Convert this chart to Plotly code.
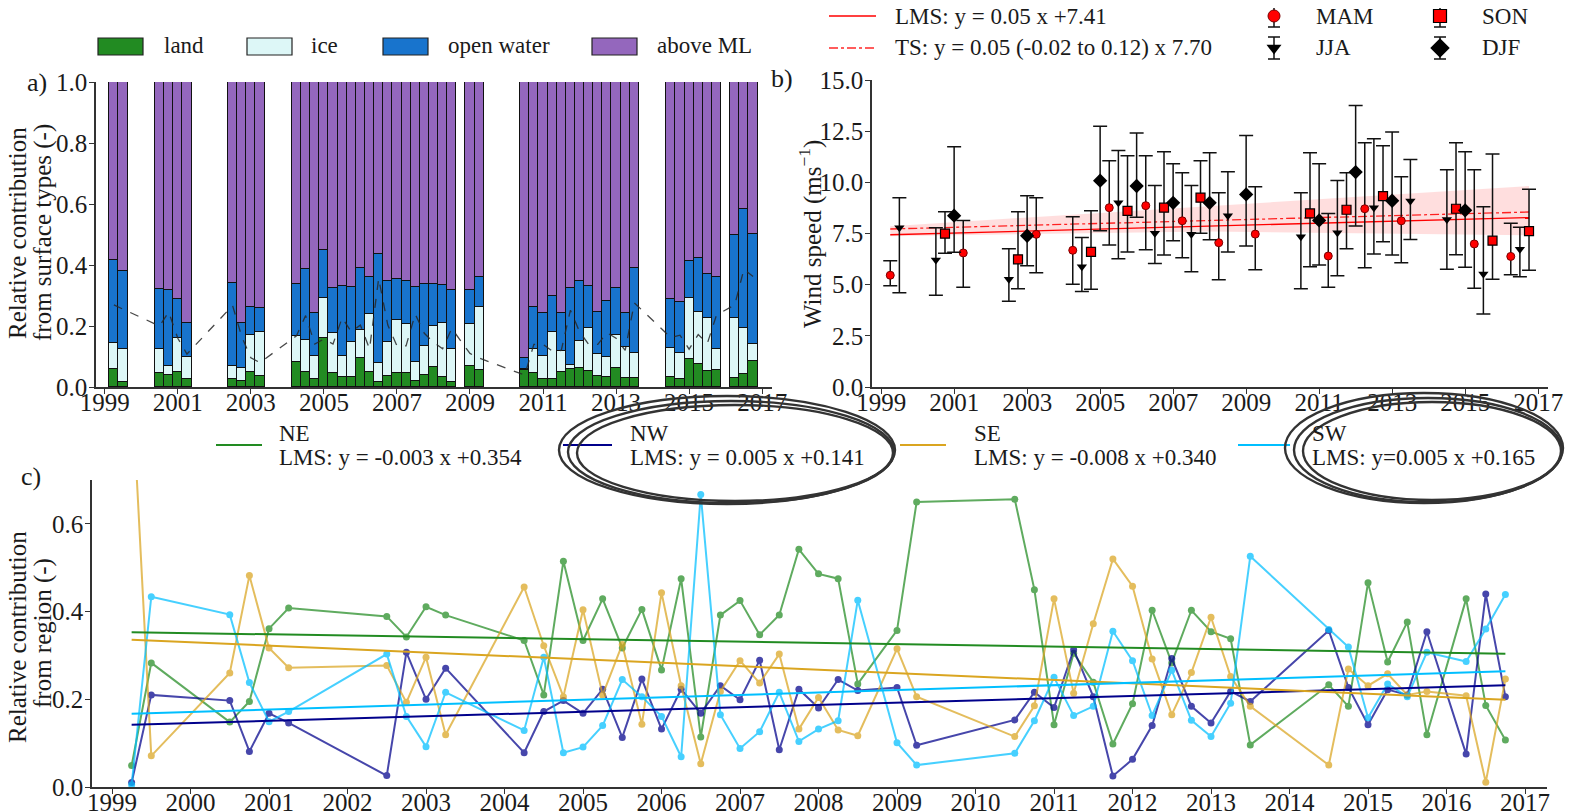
import plotly.graph_objects as go

W, H = 1575, 811
OFF = 8                      # page body margin of the browser
FW, FH = W - OFF, H - OFF    # figure size so the page fills the window exactly

# ---------------- data ----------------
quarters = [1999.25, 1999.5, 2000.5, 2000.75, 2001.0, 2001.25, 2002.5, 2002.75, 2003.0, 2003.25,
            2004.25, 2004.5, 2004.75, 2005.0, 2005.25, 2005.5, 2005.75, 2006.0, 2006.25, 2006.5,
            2006.75, 2007.0, 2007.25, 2007.5, 2007.75, 2008.0, 2008.25, 2008.5,
            2009.0, 2009.25,
            2010.5, 2010.75, 2011.0, 2011.25, 2011.5, 2011.75, 2012.0, 2012.25, 2012.5, 2012.75,
            2013.0, 2013.25, 2013.5,
            2014.5, 2014.75, 2015.0, 2015.25, 2015.5, 2015.75,
            2016.25, 2016.5, 2016.75]

# panel a: surface type fractions
land = [0.059, 0.015, 0.047, 0.039, 0.050, 0.025, 0.026, 0.021, 0.050, 0.037,
        0.082, 0.050, 0.025, 0.160, 0.045, 0.032, 0.034, 0.094, 0.050, 0.015,
        0.037, 0.047, 0.047, 0.021, 0.039, 0.066, 0.034, 0.015,
        0.069, 0.056,
        0.056, 0.047, 0.025, 0.025, 0.050, 0.059, 0.063, 0.054, 0.037, 0.033,
        0.063, 0.030, 0.030,
        0.034, 0.027, 0.093, 0.075, 0.054, 0.056,
        0.030, 0.043, 0.085]
ice = [0.084, 0.109, 0.077, 0.031, 0.110, 0.074, 0.043, 0.042, 0.120, 0.144,
       0.086, 0.104, 0.077, 0.131, 0.133, 0.070, 0.114, 0.093, 0.189, 0.063,
       0.111, 0.172, 0.158, 0.062, 0.097, 0.134, 0.175, 0.110,
       0.136, 0.205,
       0.002, 0.078, 0.077, 0.154, 0.068, 0.013, 0.088, 0.138, 0.071, 0.065,
       0.106, 0.102, 0.080,
       0.095, 0.083, 0.198, 0.172, 0.171, 0.069,
       0.197, 0.151, 0.055]
open_water = [0.273, 0.257, 0.198, 0.247, 0.127, 0.110, 0.271, 0.146, 0.093, 0.079,
              0.171, 0.234, 0.140, 0.158, 0.146, 0.230, 0.181, 0.203, 0.123, 0.358,
              0.198, 0.134, 0.141, 0.244, 0.203, 0.139, 0.127, 0.192,
              0.112, 0.099,
              0.036, 0.138, 0.142, 0.120, 0.126, 0.254, 0.198, 0.140, 0.139, 0.183,
              0.157, 0.112, 0.281,
              0.161, 0.170, 0.122, 0.176, 0.147, 0.235,
              0.270, 0.389, 0.361]
above_ml = [0.584, 0.619, 0.678, 0.683, 0.713, 0.791, 0.660, 0.791, 0.737, 0.740,
            0.661, 0.612, 0.758, 0.551, 0.676, 0.668, 0.671, 0.610, 0.638, 0.564,
            0.654, 0.647, 0.654, 0.673, 0.661, 0.661, 0.664, 0.683,
            0.683, 0.640,
            0.906, 0.737, 0.756, 0.701, 0.756, 0.674, 0.651, 0.668, 0.753, 0.719,
            0.674, 0.756, 0.609,
            0.710, 0.720, 0.587, 0.577, 0.628, 0.640,
            0.503, 0.417, 0.499]
dashed_line = [0.269, 0.255, 0.200, 0.246, 0.160, 0.108, 0.267, 0.165, 0.096, 0.080,
               0.168, 0.234, 0.141, 0.157, 0.141, 0.227, 0.181, 0.203, 0.125, 0.356,
               0.203, 0.135, 0.135, 0.239, 0.176, 0.147, 0.125, 0.192,
               0.110, 0.095,
               0.039, 0.140, 0.140, 0.118, 0.120, 0.252, 0.181, 0.140, 0.140, 0.178,
               0.160, 0.120, 0.276,
               0.162, 0.170, 0.124, 0.172, 0.143, 0.236,
               0.269, 0.386, 0.362]

# panel b: wind speed
wind_mean = [5.46, 7.78, 6.20, 7.49, 8.37, 6.55, 5.26, 6.24, 7.39, 7.46,
             6.68, 5.88, 6.60, 10.08, 8.76, 9.00, 8.61, 9.82, 8.86, 7.51,
             8.76, 9.00, 8.12, 7.46, 9.25, 9.00, 7.05, 8.37,
             9.41, 7.47,
             7.34, 8.48, 8.14, 6.40, 7.54, 8.66, 10.50, 8.71, 8.76, 9.33,
             9.10, 8.12, 9.09,
             8.19, 8.71, 8.63, 6.99, 5.52, 7.15,
             6.38, 6.73, 7.62]
wind_high = [6.17, 9.25, 7.78, 8.56, 11.74, 8.14, 6.76, 8.56, 9.35, 9.25,
             8.32, 7.31, 8.61, 12.74, 11.06, 11.56, 11.30, 12.41, 11.30, 9.85,
             11.50, 10.91, 10.47, 9.85, 11.06, 11.45, 9.49, 10.52,
             12.29, 9.79,
             9.49, 11.45, 10.91, 8.48, 10.09, 10.47, 13.76, 11.93, 12.13, 11.79,
             12.46, 10.27, 11.11,
             10.62, 11.93, 11.50, 10.62, 8.81, 11.38,
             8.00, 7.80, 9.66]
wind_low = [4.95, 4.61, 4.48, 6.53, 6.58, 4.87, 4.19, 4.80, 5.93, 5.58,
            5.02, 4.67, 4.77, 7.64, 6.94, 6.27, 6.60, 8.29, 6.71, 6.04,
            6.45, 7.15, 6.32, 5.63, 7.51, 7.20, 5.24, 6.60,
            6.89, 5.73,
            4.80, 5.88, 5.96, 4.87, 5.44, 6.76, 7.87, 5.83, 6.50, 7.10,
            6.45, 6.07, 7.21,
            5.75, 6.46, 5.85, 4.82, 3.57, 5.26,
            5.49, 5.39, 5.70]
trend_x = [1999.25, 2016.75]
lms_wind = [7.44, 8.28]
ts_wind = [7.72, 8.55]
band_x = [1999.25, 2008.0, 2016.75]
band_upper = [7.86, 8.84, 9.82]
band_lower = [7.37, 7.60, 7.41]

# panel c: regional contributions
region_ne = [0.049, 0.283, 0.148, 0.195, 0.361, 0.408, 0.389, 0.342, 0.411, 0.392,
             0.334, 0.210, 0.515, 0.334, 0.429, 0.317, 0.405, 0.267, 0.475, 0.114,
             0.392, 0.425, 0.347, 0.392, 0.542, 0.486, 0.475, 0.235,
             0.357, 0.650,
             0.656, 0.450, 0.142, 0.305, 0.239, 0.098, 0.190, 0.403, 0.283, 0.403,
             0.354, 0.338, 0.096,
             0.233, 0.184, 0.466, 0.285, 0.376, 0.119,
             0.429, 0.186, 0.107]
region_nw = [0.010, 0.210, 0.197, 0.081, 0.168, 0.146, 0.026, 0.307, 0.200, 0.271,
             0.078, 0.172, 0.197, 0.168, 0.223, 0.113, 0.246, 0.132, 0.223, 0.168,
             0.231, 0.199, 0.289, 0.085, 0.223, 0.180, 0.245, 0.220,
             0.227, 0.095,
             0.153, 0.216, 0.181, 0.313, 0.206, 0.025, 0.063, 0.140, 0.293, 0.184,
             0.146, 0.218, 0.195,
             0.357, 0.227, 0.142, 0.222, 0.210, 0.354,
             0.075, 0.440, 0.206]
region_se = [0.930, 0.071, 0.260, 0.482, 0.317, 0.272, 0.277, 0.193, 0.296, 0.119,
             0.456, 0.322, 0.206, 0.404, 0.210, 0.325, 0.143, 0.443, 0.231, 0.053,
             0.218, 0.288, 0.237, 0.303, 0.132, 0.204, 0.130, 0.117,
             0.315, 0.206,
             0.115, 0.185, 0.429, 0.214, 0.372, 0.520, 0.458, 0.292, 0.165, 0.261,
             0.387, 0.252, 0.184,
             0.050, 0.269, 0.231, 0.258, 0.210, 0.218,
             0.208, 0.011, 0.246]
region_sw = [0.005, 0.434, 0.393, 0.238, 0.149, 0.172, 0.303, 0.161, 0.092, 0.216,
             0.129, 0.296, 0.078, 0.091, 0.140, 0.245, 0.206, 0.161, 0.069, 0.667,
             0.165, 0.088, 0.126, 0.216, 0.104, 0.132, 0.151, 0.426,
             0.101, 0.050,
             0.077, 0.151, 0.250, 0.163, 0.184, 0.355, 0.288, 0.163, 0.266, 0.152,
             0.115, 0.191, 0.526,
             0.359, 0.319, 0.158, 0.235, 0.206, 0.307,
             0.286, 0.360, 0.439]
trend_ne = [0.353, 0.304]
trend_nw = [0.142, 0.232]
trend_se = [0.336, 0.199]
trend_sw = [0.167, 0.264]

surface_names = ["land", "ice", "open water", "above ML"]
region_names = ["NE", "NW", "SE", "SW"]
region_labels = ["LMS: y = -0.003 x +0.354", "LMS: y = 0.005 x +0.141",
                 "LMS: y = -0.008 x +0.340", "LMS: y=0.005 x +0.165"]
wind_labels = ["LMS: y = 0.05 x +7.41", "TS: y = 0.05 (-0.02 to 0.12) x 7.70"]
season_names = ["MAM", "JJA", "SON", "DJF"]

# ---------------- styling ----------------
FONT = "Liberation Serif"
TXT = "#1a1a1a"
AX = "#333333"
surface_colors = ["#228B22", "#DDF7F7", "#1874CD", "#9467BD"]
region_colors = ["#228B22", "#00008B", "#DAA520", "#00BFFF"]
LEG_SIZE = 23
TICK_SIZE = 25
TITLE_SIZE = 25


def px(x):
    """screen pixel x -> paper fraction"""
    return (x - OFF) / FW


def py(y):
    """screen pixel y (from top) -> paper fraction"""
    return 1 - (y - OFF) / FH


season_of = {0.25: "MAM", 0.5: "JJA", 0.75: "SON", 0.0: "DJF"}
seasons = [season_of[round(q - int(q), 2)] for q in quarters]

fig = go.Figure()

# ---- panel a ----
for vals, name, col in zip([land, ice, open_water, above_ml], surface_names, surface_colors):
    fig.add_trace(go.Bar(x=quarters, y=vals, width=0.25, name=name,
                         marker=dict(color=col, line=dict(color="#111111", width=1)),
                         xaxis="x", yaxis="y", showlegend=False))
fig.add_trace(go.Scatter(x=quarters, y=dashed_line, mode="lines",
                         line=dict(color="rgba(40,40,40,0.85)", width=1.3, dash="dash"),
                         xaxis="x", yaxis="y", showlegend=False))

# ---- panel b ----
fig.add_trace(go.Scatter(x=band_x + band_x[::-1], y=band_upper + band_lower[::-1],
                         fill="toself", fillcolor="rgba(255,0,0,0.13)", line=dict(width=0),
                         mode="lines", xaxis="x2", yaxis="y2", showlegend=False))
fig.add_trace(go.Scatter(x=trend_x, y=ts_wind, mode="lines",
                         line=dict(color="rgba(255,0,0,0.85)", width=1.3, dash="dashdot"),
                         xaxis="x2", yaxis="y2", showlegend=False))
fig.add_trace(go.Scatter(x=trend_x, y=lms_wind, mode="lines",
                         line=dict(color="#ff0000", width=1.3),
                         xaxis="x2", yaxis="y2", showlegend=False))

season_style = {
    "MAM": dict(symbol="circle", size=8, color="#ff0000", line=dict(color="#7a0000", width=1)),
    "JJA": dict(symbol="triangle-down", size=9, color="#000000", line=dict(color="#000000", width=0)),
    "SON": dict(symbol="square", size=9, color="#ff0000", line=dict(color="#000000", width=1.2)),
    "DJF": dict(symbol="diamond", size=11, color="#000000", line=dict(color="#000000", width=0)),
}
legend_size = {"MAM": 12, "JJA": 13, "SON": 13, "DJF": 15}
for s in season_names:
    idx = [i for i, v in enumerate(seasons) if v == s]
    xs = [quarters[i] for i in idx]
    ys = [wind_mean[i] for i in idx]
    up = [wind_high[i] - wind_mean[i] for i in idx]
    dn = [wind_mean[i] - wind_low[i] for i in idx]
    fig.add_trace(go.Scatter(x=xs, y=ys, mode="markers", marker=season_style[s],
                             error_y=dict(type="data", symmetric=False, array=up, arrayminus=dn,
                                          color="#111111", thickness=1.5, width=7),
                             xaxis="x2", yaxis="y2", showlegend=False))

# ---- panel c ----
for vals, col in zip([region_ne, region_nw, region_se, region_sw], region_colors):
    fig.add_trace(go.Scatter(x=quarters, y=vals, mode="lines+markers",
                             line=dict(color=col, width=2), marker=dict(color=col, size=7),
                             opacity=0.72, xaxis="x3", yaxis="y3", showlegend=False))
for vals, col in zip([trend_ne, trend_nw, trend_se, trend_sw], region_colors):
    fig.add_trace(go.Scatter(x=trend_x, y=vals, mode="lines", line=dict(color=col, width=2),
                             xaxis="x3", yaxis="y3", showlegend=False))

# ---------------- legends (overlay pixel axis) ----------------
shapes = []
annotations = []

# panel a legend
patch_x = [98, 247, 383, 592]
text_x = [162, 309, 446, 655]
for name, col, x0, tx in zip(surface_names, surface_colors, patch_x, text_x):
    shapes.append(dict(type="rect", xref="paper", yref="paper", x0=px(x0), x1=px(x0 + 45),
                       y0=py(55), y1=py(38), fillcolor=col, line=dict(color="#222", width=1.2)))
    annotations.append(dict(x=px(tx), y=py(46), xref="paper", yref="paper", text=name,
                            showarrow=False, xanchor="left", yanchor="middle",
                            font=dict(family=FONT, size=LEG_SIZE, color=TXT)))

# panel b legend
fig.add_trace(go.Scatter(x=[829, 876], y=[16, 16], mode="lines", line=dict(color="#ff0000", width=1.3),
                         xaxis="x4", yaxis="y4", showlegend=False, hoverinfo="skip"))
fig.add_trace(go.Scatter(x=[829, 876], y=[48, 48], mode="lines",
                         line=dict(color="rgba(255,0,0,0.85)", width=1.3, dash="dashdot"),
                         xaxis="x4", yaxis="y4", showlegend=False, hoverinfo="skip"))
for lab, yy in zip(wind_labels, [16, 48]):
    annotations.append(dict(x=px(893), y=py(yy), xref="paper", yref="paper", text=lab,
                            showarrow=False, xanchor="left", yanchor="middle",
                            font=dict(family=FONT, size=LEG_SIZE, color=TXT)))
leg_pos = {"MAM": (1274, 16), "SON": (1440, 16), "JJA": (1274, 48), "DJF": (1440, 48)}
for s in season_names:
    mx, my = leg_pos[s]
    mstyle = dict(season_style[s], size=legend_size[s])
    fig.add_trace(go.Scatter(x=[mx], y=[my], mode="markers", marker=mstyle,
                             error_y=dict(type="data", array=[11], color="#111111", thickness=1.5, width=6),
                             xaxis="x4", yaxis="y4", showlegend=False, hoverinfo="skip"))
    annotations.append(dict(x=px(mx + 40), y=py(my), xref="paper", yref="paper", text=s,
                            showarrow=False, xanchor="left", yanchor="middle",
                            font=dict(family=FONT, size=LEG_SIZE, color=TXT)))

# panel c legend
line_x = [(216, 262), (563, 612), (900, 946), (1238, 1290)]
label_x = [277, 628, 972, 1310]
for name, lab, col, (a, b), tx in zip(region_names, region_labels, region_colors, line_x, label_x):
    fig.add_trace(go.Scatter(x=[a, b], y=[445, 445], mode="lines", line=dict(color=col, width=2),
                             xaxis="x4", yaxis="y4", showlegend=False, hoverinfo="skip"))
    annotations.append(dict(x=px(tx), y=py(433), xref="paper", yref="paper", text=name,
                            showarrow=False, xanchor="left", yanchor="middle",
                            font=dict(family=FONT, size=LEG_SIZE, color=TXT)))
    annotations.append(dict(x=px(tx), y=py(457), xref="paper", yref="paper", text=lab,
                            showarrow=False, xanchor="left", yanchor="middle",
                            font=dict(family=FONT, size=LEG_SIZE, color=TXT)))

# hand-drawn style ellipses around NW and SW legend entries
for cx, cy, rx, ry in [(727, 450, 168, 54), (1424, 448, 139, 55)]:
    for dx, dy, drx, dry in [(0, 0, 0, 0), (4, 2, -5, -3), (8, 3, -10, -6)]:
        shapes.append(dict(type="circle", xref="paper", yref="paper",
                           x0=px(cx + dx - rx - drx), x1=px(cx + dx + rx + drx),
                           y0=py(cy + dy + ry + dry), y1=py(cy + dy - ry - dry),
                           line=dict(color="#333333", width=2.4)))

# panel labels and axis titles
for t, x, y in [("a)", 37, 82), ("b)", 782, 78), ("c)", 31, 476)]:
    annotations.append(dict(x=px(x), y=py(y), xref="paper", yref="paper", text=t, showarrow=False,
                            xanchor="center", yanchor="middle", font=dict(family=FONT, size=26, color=TXT)))
for t, x, y in [("Relative contribution", 17, 233), ("from surface types (-)", 43, 233),
                ("Wind speed (ms<sup>−1</sup>)", 810, 234),
                ("Relative contribution", 17, 637), ("from region (-)", 43, 633)]:
    annotations.append(dict(x=px(x), y=py(y), xref="paper", yref="paper", text=t, showarrow=False,
                            textangle=-90, xanchor="center", yanchor="middle",
                            font=dict(family=FONT, size=TITLE_SIZE, color=TXT)))

axis_common = dict(showline=True, linecolor=AX, linewidth=1.5, ticks="outside", ticklen=5,
                   tickwidth=1.3, tickcolor=AX, showgrid=False, zeroline=False, automargin=False,
                   tickfont=dict(family=FONT, size=TICK_SIZE, color=TXT), fixedrange=True)
xcommon = dict(axis_common, ticklabelstandoff=-13)
ycommon = dict(axis_common, ticklabelstandoff=-3)

fig.update_layout(
    width=FW, height=FH, margin=dict(l=0, r=0, t=0, b=0, autoexpand=False),
    paper_bgcolor="white", plot_bgcolor="rgba(0,0,0,0)",
    barmode="stack", bargap=0, showlegend=False,
    font=dict(family=FONT, color=TXT),
    xaxis=dict(xcommon, domain=[px(96), px(772)], range=[1998.76, 2017.27], anchor="y",
               tickvals=list(range(1999, 2018, 2)), tickformat="d"),
    yaxis=dict(ycommon, domain=[py(387), py(82)], range=[0, 1.0], anchor="x",
               tickvals=[0, 0.2, 0.4, 0.6, 0.8, 1.0], tickformat=".1f"),
    xaxis2=dict(xcommon, domain=[px(872), px(1548)], range=[1998.75, 2017.27], anchor="y2",
                tickvals=list(range(1999, 2018, 2)), tickformat="d"),
    yaxis2=dict(ycommon, domain=[py(387), py(80)], range=[0, 15], anchor="x2",
                tickvals=[0, 2.5, 5, 7.5, 10, 12.5, 15], tickformat=".1f"),
    xaxis3=dict(xcommon, domain=[px(92), px(1547)], range=[1998.745, 2017.28], anchor="y3",
                tickvals=list(range(1999, 2018)), tickformat="d"),
    yaxis3=dict(ycommon, domain=[py(787), py(480)], range=[0, 0.7], anchor="x3",
                tickvals=[0, 0.2, 0.4, 0.6], tickformat=".1f"),
    xaxis4=dict(domain=[0, 1], range=[OFF, OFF + FW], visible=False, anchor="y4",
                fixedrange=True, automargin=False),
    yaxis4=dict(domain=[0, 1], range=[OFF + FH, OFF], visible=False, anchor="x4",
                fixedrange=True, automargin=False),
    shapes=shapes, annotations=annotations,
)

fig.write_html("out.html")
